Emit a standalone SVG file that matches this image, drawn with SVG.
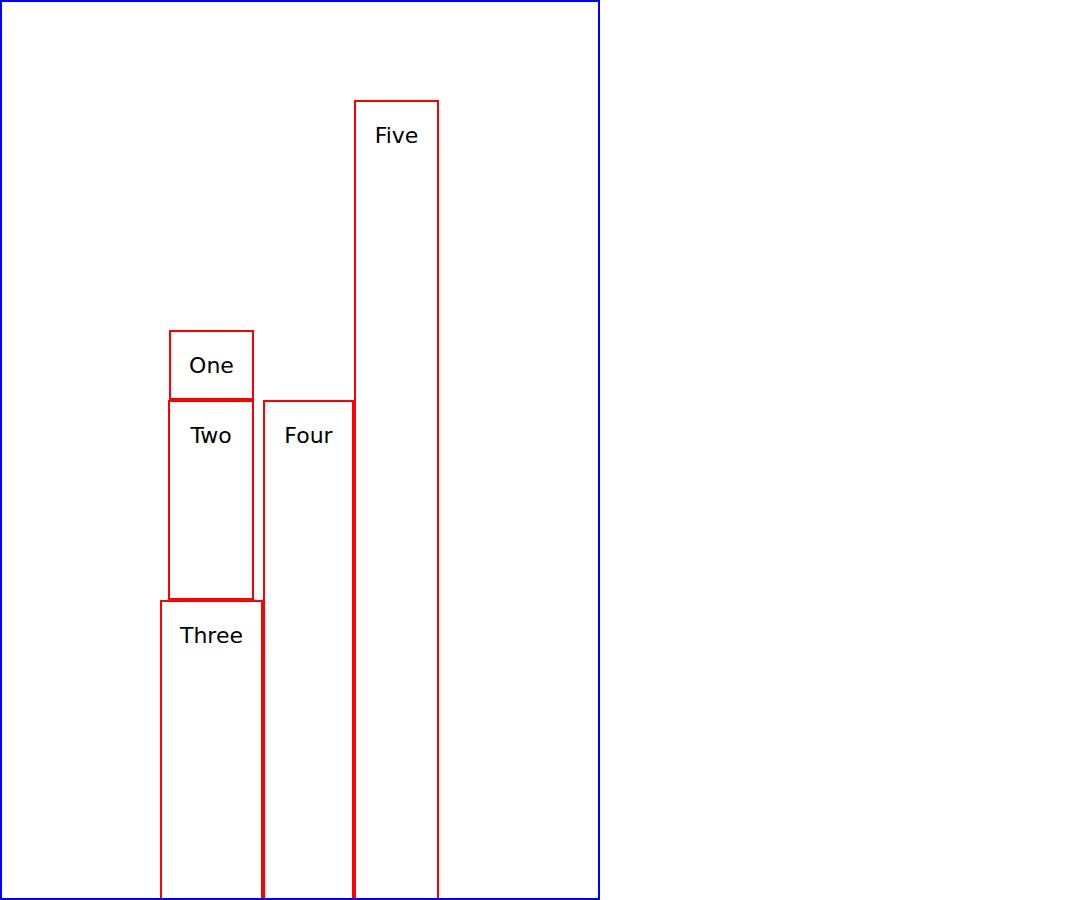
<svg xmlns="http://www.w3.org/2000/svg" width="1080" height="900" viewBox="0 0 1080 900">
<style>
.frame{fill:#fff;stroke:#0000ff;stroke-width:2}
.box{fill:#fff;stroke:#ff0000;stroke-width:2}
.lbl{font-family:"DejaVu Sans",sans-serif;font-size:22px;fill:#000;text-anchor:middle}
</style>
<rect width="1080" height="900" fill="#fff"/>
<rect class="frame" x="1" y="1" width="598" height="898"/>
<g id="connectors"></g>
<g id="five"><rect class="box" x="355" y="101" width="83" height="800"/><text class="lbl" x="396.5" y="143">Five</text></g>
<g id="four"><rect class="box" x="264" y="401" width="89" height="500"/><text class="lbl" x="308.5" y="443">Four</text></g>
<g id="three"><rect class="box" x="161" y="601" width="101" height="300"/><text class="lbl" x="211.5" y="643">Three</text></g>
<g id="two"><rect class="box" x="169" y="401" width="84" height="198"/><text class="lbl" x="211" y="443">Two</text></g>
<g id="one"><rect class="box" x="170" y="331" width="83" height="68"/><text class="lbl" x="211.5" y="373">One</text></g>
<line x1="0" y1="899" x2="600" y2="899" stroke="#0000ff" stroke-width="2"/>
</svg>
